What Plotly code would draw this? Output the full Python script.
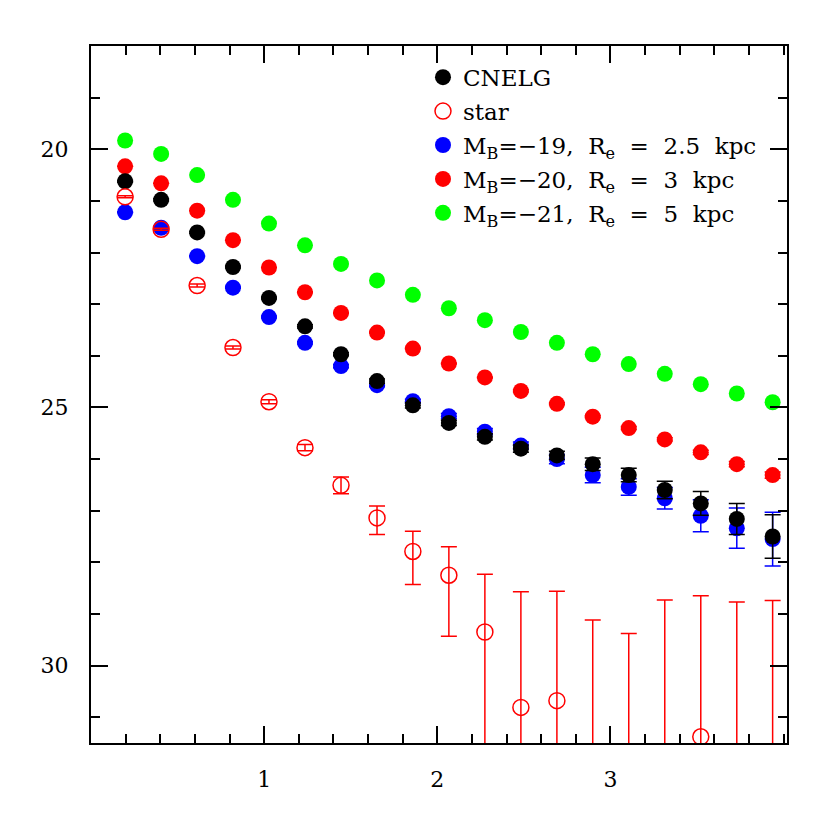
import plotly.graph_objects as go

radius = [0.197, 0.405, 0.613, 0.820, 1.028, 1.236, 1.444, 1.652, 1.859, 2.067,
          2.275, 2.483, 2.691, 2.898, 3.106, 3.314, 3.522, 3.730, 3.937]

cnelg = [20.62, 20.98, 21.61, 22.28, 22.88, 23.43, 23.97, 24.49, 24.96, 25.30,
         25.57, 25.80, 25.93, 26.10, 26.31, 26.60, 26.86, 27.16, 27.50]
cnelg_err = [0.02, 0.02, 0.02, 0.02, 0.02, 0.03, 0.03, 0.04, 0.05, 0.05,
             0.06, 0.07, 0.08, 0.12, 0.13, 0.17, 0.23, 0.30, 0.42]

star = [20.92, 21.55, 22.64, 23.84, 24.89, 25.78, 26.51, 27.14, 27.79, 28.25,
        29.35, 30.81, 30.68, 33.00, 34.00, 32.50, 31.38, 32.80, 32.60]
star_err_bright = [0.02, 0.02, 0.03, 0.03, 0.04, 0.06, 0.16, 0.23, 0.39, 0.55,
                   1.12, 2.24, 2.12, 3.88, 4.62, 3.77, 2.73, 4.03, 3.86]
star_err_faint = [0.02, 0.02, 0.03, 0.03, 0.04, 0.06, 0.16, 0.32, 0.64, 1.18,
                  5.0, 5.0, 5.0, 5.0, 5.0, 5.0, 5.0, 5.0, 5.0]

model19 = [21.22, 21.52, 22.07, 22.68, 23.25, 23.75, 24.20, 24.57, 24.88, 25.17,
           25.47, 25.74, 26.00, 26.31, 26.54, 26.76, 27.10, 27.34, 27.55]
model19_err = [0.01, 0.01, 0.01, 0.01, 0.02, 0.02, 0.03, 0.03, 0.04, 0.05,
               0.06, 0.07, 0.09, 0.15, 0.16, 0.21, 0.31, 0.39, 0.52]

model20 = [20.33, 20.66, 21.19, 21.76, 22.29, 22.77, 23.17, 23.55, 23.86, 24.15,
           24.42, 24.68, 24.93, 25.18, 25.40, 25.62, 25.87, 26.10, 26.31]
model20_err = [0.0, 0.0, 0.0, 0.0, 0.0, 0.01, 0.01, 0.01, 0.01, 0.01,
               0.01, 0.02, 0.02, 0.02, 0.03, 0.03, 0.04, 0.05, 0.06]

model21 = [19.83, 20.09, 20.50, 20.98, 21.44, 21.86, 22.22, 22.54, 22.82, 23.08,
           23.31, 23.54, 23.75, 23.97, 24.16, 24.35, 24.55, 24.73, 24.90]

names = ["CNELG", "star",
         "M<sub>B</sub>=−19,  R<sub>e</sub>  =  2.5  kpc",
         "M<sub>B</sub>=−20,  R<sub>e</sub>  =  3  kpc",
         "M<sub>B</sub>=−21,  R<sub>e</sub>  =  5  kpc"]

MS = 16
fig = go.Figure()

fig.add_trace(go.Scatter(x=radius, y=model21, mode="markers", name=names[4],
                         legendrank=5, legendgroup="g5",
                         marker=dict(color="#00ff00", size=MS)))
fig.add_trace(go.Scatter(x=radius, y=model20, mode="markers", name=names[3],
                         legendrank=4, legendgroup="g4",
                         marker=dict(color="#ff0000", size=MS),
                         error_y=dict(type="data", array=model20_err, color="#ff0000",
                                      thickness=1.5, width=8)))
fig.add_trace(go.Scatter(x=radius, y=model19, mode="markers", name=names[2],
                         legendrank=3, legendgroup="g3",
                         marker=dict(color="#0000ff", size=MS),
                         error_y=dict(type="data", array=model19_err, color="#0000ff",
                                      thickness=1.5, width=8)))
fig.add_trace(go.Scatter(x=radius, y=cnelg, mode="markers", name=names[0],
                         legendrank=1, legendgroup="g1",
                         marker=dict(color="#000000", size=MS),
                         error_y=dict(type="data", array=cnelg_err, color="#000000",
                                      thickness=1.5, width=8)))
fig.add_trace(go.Scatter(x=radius, y=star, mode="markers", name=names[1],
                         legendrank=2, legendgroup="g2",
                         marker=dict(symbol="circle-open", color="#ff0000", size=MS,
                                     line=dict(width=1.5, color="#ff0000")),
                         error_y=dict(type="data", symmetric=False,
                                      array=star_err_faint, arrayminus=star_err_bright,
                                      color="#ff0000", thickness=1.5, width=8)))

axis_common = dict(showline=True, linecolor="black", linewidth=2, mirror="allticks",
                   ticks="inside", ticklen=17, tickwidth=1.5, tickcolor="black",
                   showgrid=False, zeroline=False,
                   tickfont=dict(family="DejaVu Serif", size=22, color="black"))

fig.update_xaxes(range=[0, 4.02], tickvals=[1, 2, 3], ticktext=["1", "2", "3"],
                 minor=dict(dtick=0.2, tick0=0, ticks="inside", ticklen=9,
                            tickwidth=1.5, tickcolor="black"),
                 ticklabelstandoff=16, **axis_common)
fig.update_yaxes(range=[31.5, 18.0], tickvals=[20, 25, 30], ticktext=["20", "25", "30"],
                 minor=dict(dtick=1, tick0=0, ticks="inside", ticklen=9,
                            tickwidth=1.5, tickcolor="black"),
                 ticklabelstandoff=16, **axis_common)

fig.update_layout(
    width=830, height=830,
    margin=dict(l=83, r=51, t=38, b=95),
    paper_bgcolor="white", plot_bgcolor="white",
    showlegend=True,
    legend=dict(x=0.477, y=0.986, xanchor="left", yanchor="top",
                bgcolor="rgba(0,0,0,0)", tracegroupgap=1,
                font=dict(family="DejaVu Serif", size=23, color="black")),
)

fig.write_html("out.html")
